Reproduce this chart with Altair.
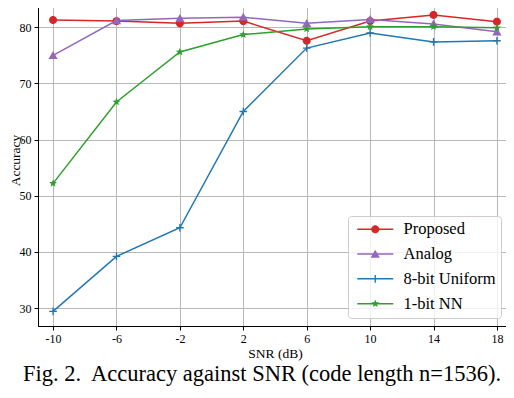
import math
import altair as alt
import pandas as pd

# ---- data ----
snr = [-10, -6, -2, 2, 6, 10, 14, 18]
series_names = ["Proposed", "Analog", "8-bit Uniform", "1-bit NN"]
proposed = [81.3, 81.1, 80.7, 81.1, 77.6, 81.1, 82.2, 81.0]
analog = [75.0, 81.2, 81.6, 81.8, 80.7, 81.4, 80.6, 79.2]
uniform8 = [29.4, 39.2, 44.3, 65.0, 76.3, 79.0, 77.4, 77.6]
nn1 = [52.2, 66.7, 75.6, 78.7, 79.7, 80.1, 80.1, 79.9]
y_ticks = [30, 40, 50, 60, 70, 80]
colors = ["#d62728", "#9467bd", "#1f77b4", "#2ca02c"]

rows = []
for name, vals in zip(series_names, [proposed, analog, uniform8, nn1]):
    for s, v in zip(snr, vals):
        rows.append({"series": name, "snr": s, "acc": v})
df = pd.DataFrame(rows)


# ---- marker shapes (unit-square SVG paths) ----
def poly(pts):
    return "M" + "L".join(f"{px:.3f},{py:.3f}" for px, py in pts) + "Z"


def marker(kind, k):
    if kind == "circle":
        n = 28
        return poly([(k * math.cos(2 * math.pi * i / n), k * math.sin(2 * math.pi * i / n)) for i in range(n)])
    if kind == "triangle":
        return poly([(0, -1.1 * k), (1.15 * k, 0.9 * k), (-1.15 * k, 0.9 * k)])
    if kind == "plus":
        a, t = 0.95 * k, 0.17 * k
        return poly([(-a, -t), (-t, -t), (-t, -a), (t, -a), (t, -t), (a, -t),
                     (a, t), (t, t), (t, a), (-t, a), (-t, t), (-a, t)])
    if kind == "star":
        pts = []
        for i in range(10):
            ang = math.radians(-90 + 36 * i)
            r = (1.05 if i % 2 == 0 else 0.45) * k
            pts.append((r * math.cos(ang), r * math.sin(ang)))
        return poly(pts)


kinds = ["circle", "triangle", "plus", "star"]
plot_paths = [marker(kd, 1.0) for kd in kinds]
line_seg = poly([(-3.6, -0.15), (3.6, -0.15), (3.6, 0.15), (-3.6, 0.15)])
legend_paths = [line_seg + marker(kd, 0.8) for kd in kinds]

FONT = "Liberation Serif"
axis_style = dict(
    labelFont=FONT,
    labelFontSize=12,
    labelColor="black",
    titleFont=FONT,
    titleFontSize=13.5,
    titleFontWeight="normal",
    titleColor="black",
    domainColor="black",
    domainWidth=1,
    tickColor="black",
    tickSize=4,
    labelPadding=3,
    titlePadding=2,
    gridColor="#b0b0b0",
    gridWidth=0.9,
)

x = alt.X(
    "snr:Q",
    scale=alt.Scale(domain=[-10.95, 18.95], nice=False, zero=False),
    axis=alt.Axis(values=snr, title="SNR (dB)", labelExpr="'' + datum.value", **axis_style),
)
y = alt.Y(
    "acc:Q",
    scale=alt.Scale(domain=[26.8, 84.86], nice=False, zero=False),
    axis=alt.Axis(values=y_ticks, title="Accuracy", titleX=-19, titleY=160,
                  titleBaseline="alphabetic", **axis_style),
)

legend_kw = dict(
    title=None,
    orient="none",
    legendX=310,
    legendY=216,
    symbolSize=100,
    symbolOffset=14,
    symbolStrokeWidth=0,
    symbolOpacity=1,
    labelOffset=20,
    labelFont=FONT,
    labelFontSize=16.5,
    labelColor="black",
    labelLimit=300,
    rowPadding=7.8,
    padding=5,
    strokeColor="#cccccc",
    fillColor="rgba(255,255,255,0.8)",
    cornerRadius=3,
)

base = alt.Chart(df)

# legend-only layer: draws no marks (empty after filter); the scale domains are explicit
legend_layer = base.transform_filter("false").mark_point(filled=True, size=100).encode(
    x=x,
    y=y,
    color=alt.Color("series:N", scale=alt.Scale(domain=series_names, range=colors), legend=alt.Legend(**legend_kw)),
    shape=alt.Shape("series:N", scale=alt.Scale(domain=series_names, range=legend_paths), legend=alt.Legend(**legend_kw)),
)

layers = [legend_layer]
for i, name in enumerate(series_names):
    sub = base.transform_filter(alt.datum.series == name)
    layers.append(sub.mark_line(strokeWidth=1.5, color=colors[i]).encode(x=x, y=y))
    layers.append(
        sub.mark_point(shape=plot_paths[i], filled=True, size=64, opacity=1, strokeWidth=0,
                       color=colors[i]).encode(x=x, y=y)
    )

chart = (
    alt.layer(*layers)
    .properties(
        width=474,
        height=326,
        autosize=alt.AutoSizeParams(type="none"),
        padding={"left": 30, "top": -8, "right": -6, "bottom": 62},
        view=alt.ViewBackground(stroke="black", strokeWidth=1),
        title=alt.TitleParams(
            "Fig. 2.\u00a0 Accuracy against SNR (code length n=1536).",
            orient="bottom",
            anchor="middle",
            font=FONT,
            fontSize=22.5,
            fontWeight="normal",
            color="black",
            offset=3,
            dx=-13,
        ),
    )
    .configure_view(stroke="black", strokeWidth=1)
)

chart.save("out.html", embed_options={"renderer": "svg", "actions": False})
